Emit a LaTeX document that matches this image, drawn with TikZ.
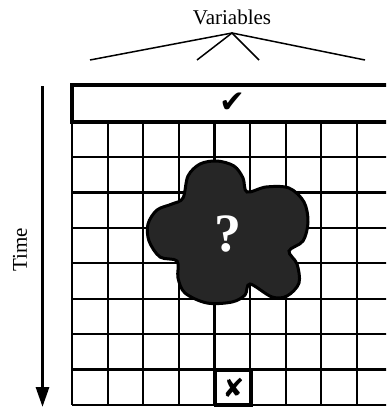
\documentclass[tikz,border=0pt]{standalone}
\usepackage{fontspec}
\setmainfont{Liberation Serif}
\newfontfamily\symfont{DejaVu Sans}
\usetikzlibrary{arrows.meta,positioning,calc}

\definecolor{blobgray}{HTML}{262626}

\begin{document}
\begin{tikzpicture}[x=0.5pt, y=-0.5pt, >=Stealth,
    gridline/.style={line width=1.1pt},
    frame/.style={line width=1.8pt},
    lbl/.style={font=\fontsize{10.5}{12}\selectfont},
    brace/.style={line width=0.75pt}]

  \useasboundingbox (0,0) rectangle (386,407);
  \clip (0,0) rectangle (386,407);

  % Define nodes
  \node[lbl] (vars) at (232,17) {Variables};
  \node[lbl, rotate=90] (time) at (20,250) {Time};
  \coordinate (apex) at (232,33);
  \coordinate (b1) at (90,60);
  \coordinate (b2) at (197,60);
  \coordinate (b3) at (259,60);
  \coordinate (b4) at (365,60);
  \coordinate (ttop) at (42.5,86);
  \coordinate (tbot) at (42.5,407);

  % Grid
  \foreach \i in {0,...,9}
    \draw[gridline] (72+35.6*\i,121.7) -- (72+35.6*\i,405);
  \foreach \j in {1,...,8}
    \draw[gridline] (72,121.7+35.4*\j) -- (400,121.7+35.4*\j);
  \draw[frame, fill=white] (72,85) rectangle (400,121.7);
  \node (tick) at (232,103) {\symfont\fontsize{15.5}{15.5}\selectfont ✔};

  % Unknown region
  \draw[line width=1.5pt, fill=blobgray] plot[smooth cycle, tension=0.55] coordinates {
    (183,198) (188,176) (200,164) (217,161) (234,166) (243,178) (247,192)
    (266,187) (289,188) (304,202) (308,222) (303,241) (289,251)
    (297,264) (299,283) (287,296) (272,297) (250,284)
    (245,295) (232,302) (207,303) (185,293) (178,278) (177,261)
    (160,257) (149,241) (148,224) (157,210) (172,204)};
  \node (ques) at (228,234) {\color{white}\bfseries\fontsize{27}{27}\selectfont ?};

  % Missing cell
  \draw[frame] (215.6,370.5) rectangle (251.2,405);
  \node (cross) at (233.4,388) {\symfont\fontsize{13}{13}\selectfont ✘};

  % Draw arrows
  \draw[brace] (b1) -- (apex) -- (b4);
  \draw[brace] (b2) -- (apex) -- (b3);
  \draw[line width=1.5pt, -{Triangle[length=10pt,width=6.5pt]}] (ttop) -- (tbot);
\end{tikzpicture}
\end{document}
